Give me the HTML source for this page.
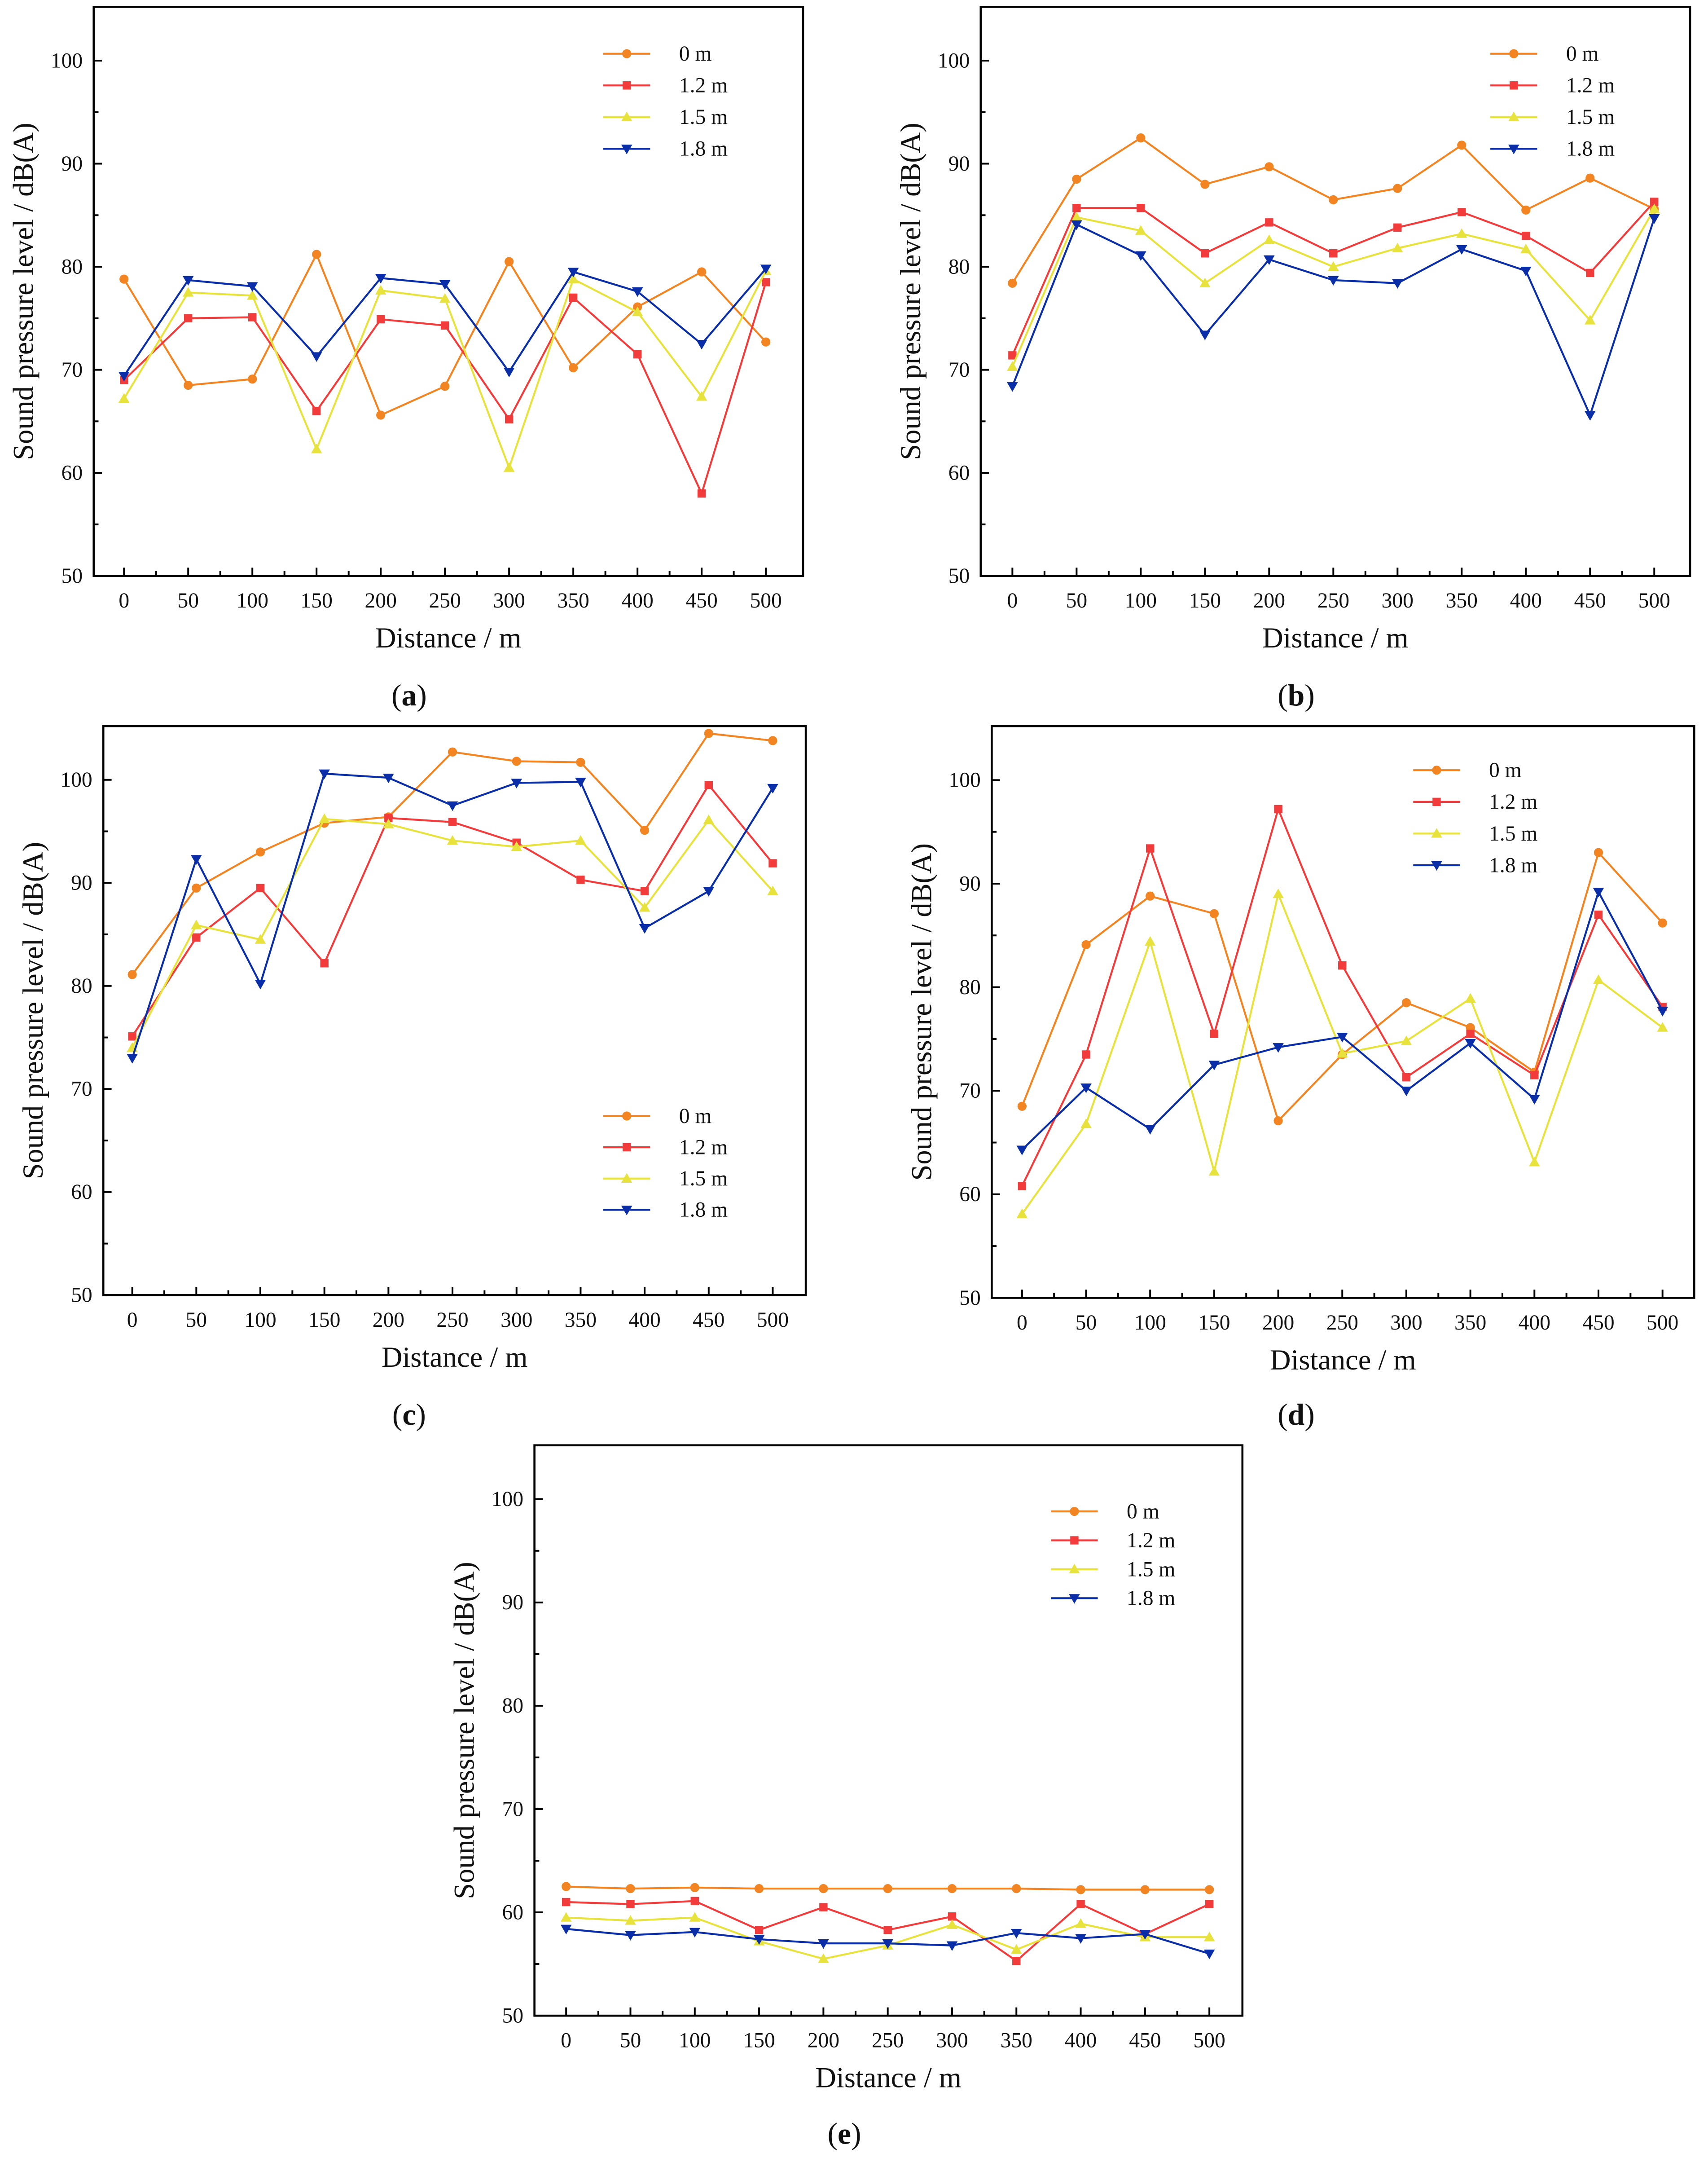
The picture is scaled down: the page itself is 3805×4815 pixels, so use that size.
<!DOCTYPE html>
<html><head><meta charset="utf-8"><style>
html,body{margin:0;padding:0;background:#fff}
svg{display:block}
text{font-family:"Liberation Serif",serif;fill:#111}
</style></head><body>
<svg id="fig" width="3805" height="4815" viewBox="0 0 1240 1569.2" xmlns="http://www.w3.org/2000/svg"></svg>
<script>
const xCategories=[0,50,100,150,200,250,300,350,400,450,500];
const yTicks=[50,60,70,80,90,100];
const seriesNames=["0 m","1.2 m","1.5 m","1.8 m"];
const a0=[78.8,68.5,69.1,81.2,65.6,68.4,80.5,70.2,76.1,79.5,72.7];
const a1=[69,75,75.1,66,74.9,74.3,65.2,77,71.5,58,78.5];
const a2=[67.2,77.5,77.2,62.3,77.7,76.9,60.5,78.8,75.6,67.4,79.6];
const a3=[69.4,78.7,78.1,71.3,78.9,78.3,69.8,79.5,77.6,72.5,79.8];
const b0=[78.4,88.5,92.5,88,89.7,86.5,87.6,91.8,85.5,88.6,85.6];
const b1=[71.4,85.7,85.7,81.3,84.3,81.3,83.8,85.3,83,79.4,86.3];
const b2=[70.3,84.8,83.5,78.4,82.6,80,81.8,83.2,81.7,74.8,85.6];
const b3=[68.4,84.1,81.1,73.4,80.7,78.7,78.4,81.7,79.6,65.6,84.7];
const c0=[81.1,89.5,93,95.8,96.4,102.7,101.8,101.7,95.1,104.5,103.8];
const c1=[75.1,84.7,89.5,82.2,96.3,95.9,93.9,90.3,89.2,99.5,91.9];
const c2=[74,85.9,84.5,96.2,95.7,94.1,93.5,94.1,87.6,96.1,89.2];
const c3=[73,92.3,80.2,100.6,100.2,97.5,99.7,99.8,85.6,89.2,99.2];
const d0=[68.5,84.1,88.8,87.1,67.1,73.5,78.5,76.1,71.8,93,86.2];
const d1=[60.8,73.5,93.4,75.5,97.2,82.1,71.3,75.5,71.5,87,78.1];
const d2=[58.1,66.8,84.4,62.2,89,73.6,74.8,78.9,63.1,80.7,76.1];
const d3=[64.3,70.3,66.3,72.5,74.2,75.2,70,74.6,69.2,89.2,77.7];
const e0=[62.5,62.3,62.4,62.3,62.3,62.3,62.3,62.3,62.2,62.2,62.2];
const e1=[61,60.8,61.1,58.3,60.5,58.3,59.6,55.3,60.8,57.9,60.8];
const e2=[59.5,59.2,59.5,57.2,55.5,56.8,58.8,56.4,58.9,57.6,57.6];
const e3=[58.4,57.8,58.1,57.4,57,57,56.8,58,57.5,57.9,56];

const colors=["#F28522","#F23C3C","#E8E33C","#0A2DA8"];
const NS="http://www.w3.org/2000/svg";
const svg=document.getElementById('fig');
function mk(tag,attrs,parent){const e=document.createElementNS(NS,tag);for(const k in attrs)e.setAttribute(k,attrs[k]);(parent||svg).appendChild(e);return e;}
function marker(g,type,x,y,c){
  let e;
  if(type===0){e=mk('circle',{cx:x,cy:y,r:3.3,fill:c},g);}
  else if(type===1){e=mk('rect',{x:x-3,y:y-3,width:6,height:6,fill:c},g);}
  else if(type===2){e=mk('polygon',{points:`${x},${y-4} ${x-4},${y+3} ${x+4},${y+3}`,fill:c},g);}
  else {e=mk('polygon',{points:`${x},${y+4} ${x-4},${y-3} ${x+4},${y-3}`,fill:c},g);}
  return e;
}
const panels=[
 {id:'a',box:[68,5,583,418],x0:90,x1:556,data:[a0,a1,a2,a3],leg:[438,39,23],cap:[297,505]},
 {id:'b',box:[712,5,1227,418],x0:735,x1:1201,data:[b0,b1,b2,b3],leg:[1082,39,23],cap:[941,505]},
 {id:'c',box:[75,527,585,940],x0:96,x1:561,data:[c0,c1,c2,c3],leg:[438,810,22.7],cap:[297,1027]},
 {id:'d',box:[720,527,1230,942],x0:742,x1:1207,data:[d0,d1,d2,d3],leg:[1026,559,23],cap:[941,1027]},
 {id:'e',box:[388,1049,902,1463],x0:411,x1:878,data:[e0,e1,e2,e3],leg:[763,1097,21],cap:[613,1549]}
];
panels.forEach(p=>{
  const [L,T,R,B]=p.box;
  const g=mk('g',{});
  
  
  const yTop=T+39*(B-T)/413;
  const ys=v=>B-(v-50)/50*(B-yTop);
  const xs=v=>p.x0+(v-0)/500*(p.x1-p.x0);
  const fr=mk('rect',{x:L,y:T,width:R-L,height:B-T,fill:'none',stroke:'#000','stroke-width':1.5},g);
  
  
  for(let v=50;v<=100;v+=5){
    const major=v%10===0;const y=ys(v);
    mk('line',{x1:L,x2:L+(major?6:3.5),y1:y,y2:y,stroke:'#000','stroke-width':1.3},g);
  }
  yTicks.forEach(v=>{const t=mk('text',{x:L-8,y:ys(v)+5,'text-anchor':'end','font-size':15.5},g);t.textContent=v;
    });
  for(let v=0;v<=500;v+=25){
    const major=v%50===0;const x=xs(v);
    mk('line',{x1:x,x2:x,y1:B,y2:B-(major?6:3.5),stroke:'#000','stroke-width':1.3},g);
  }
  xCategories.forEach(v=>{const t=mk('text',{x:xs(v),y:B+23,'text-anchor':'middle','font-size':15.5},g);t.textContent=v;
    });
  const xt=mk('text',{x:(L+R)/2,y:B+52,'text-anchor':'middle','font-size':21},g);xt.textContent='Distance / m';
  
  const cy=(T+B)/2;
  const yt=mk('text',{x:L-44,y:cy,'text-anchor':'middle','font-size':21,transform:`rotate(-90 ${L-44} ${cy})`},g);yt.textContent='Sound pressure level / dB(A)';
  
  p.data.forEach((s,i)=>{
    const sg=mk('g',{},g);
    
    
    mk('polyline',{points:s.map((v,j)=>xs(xCategories[j])+','+ys(v)).join(' '),fill:'none',stroke:colors[i],'stroke-width':1.4},sg);
    s.forEach((v,j)=>marker(sg,i,xs(xCategories[j]),ys(v),colors[i]));
  });
  const [lx,ly,ld]=p.leg;
  const lg=mk('g',{},g);
  
  
  seriesNames.forEach((n,i)=>{
    const y=ly+i*ld;
    const eg=mk('g',{},lg);
    
    
    mk('line',{x1:lx,x2:lx+34,y1:y,y2:y,stroke:colors[i],'stroke-width':1.4},eg);
    marker(eg,i,lx+17,y,colors[i]);
    const t=mk('text',{x:lx+55,y:y+5,'font-size':15.5},eg);t.textContent=n;
  });
  const cap=mk('text',{x:p.cap[0],y:p.cap[1]+7,'text-anchor':'middle','font-size':22},g);
  cap.innerHTML='(<tspan font-weight="bold">'+p.id+'</tspan>)';
  
});
</script>
</body></html>
